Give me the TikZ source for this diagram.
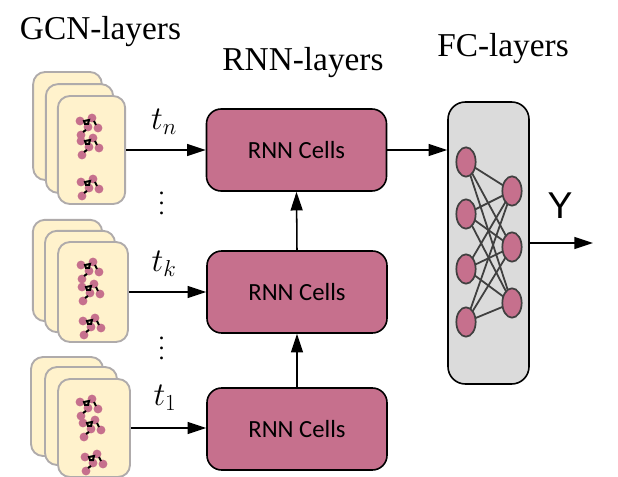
\documentclass[tikz,border=0pt]{standalone}
\usepackage{fontspec}
\setmainfont{Liberation Serif}
\newfontfamily\cellfont{Carlito}
\newfontfamily\yfont{Liberation Sans}
\definecolor{cardfill}{HTML}{FFF2CC}
\definecolor{carddraw}{HTML}{AFABAB}
\definecolor{pinkfill}{HTML}{C6708D}
\definecolor{fcfill}{HTML}{DBDBDB}
\definecolor{netline}{HTML}{404040}
\usetikzlibrary{arrows.meta,shapes.geometric}
\tikzset{
  x=0.75pt,y=-0.75pt,
  cardbox/.style={draw=carddraw,fill=cardfill,line width=1.4pt,rounded corners=9pt,inner sep=0pt},
  rnnbox/.style={draw=black,fill=pinkfill,line width=1.2pt,rounded corners=11pt,inner sep=0pt,minimum width=135pt,minimum height=61.5pt,font=\cellfont\fontsize{18.5}{20}\selectfont},
  fcbox/.style={draw=black,fill=fcfill,line width=1.2pt,rounded corners=13pt,inner sep=0pt,minimum width=60.75pt,minimum height=211.5pt},
  neuron/.style={ellipse,draw=netline,fill=pinkfill,line width=1.3pt,minimum width=14.5pt,minimum height=22pt,inner sep=0pt},
  link/.style={draw=netline,line width=1.35pt},
  flow/.style={draw=black,line width=1.15pt,-{Triangle[length=14pt,width=9pt]}},
  title/.style={font=\fontsize{25}{29}\selectfont,inner sep=0pt},
  timelabel/.style={font=\fontsize{23}{26}\selectfont,inner sep=0pt},
  dotslabel/.style={font=\fontsize{18}{7.5}\selectfont,align=center,inner sep=0pt,anchor=base},
  mol/.style={circle,fill=pinkfill,minimum size=6.6pt,inner sep=0pt},
  bond/.style={draw=black,line width=1.5pt},
}
\newcommand{\molecule}[2]{%
  \begin{scope}[shift={(#1,#2)}]
    \node[mol] at (-8,-6) {};
    \node[mol] at (4,-9) {};
    \node[mol] at (0,0) {};
    \node[mol] at (10,1) {};
    \node[mol] at (-7,8) {};
    \draw[bond] (-4,-6) -- (1,-7) -- (0,-3) -- (-3,-3) -- cycle;
    \draw[bond] (6,-6) -- (8,-2);
    \draw[bond] (-2,3) -- (-5,5);
  \end{scope}}
\begin{document}
\begin{tikzpicture}
\useasboundingbox (0,0) rectangle (618,477);
\begin{scope}
\clip (0,0) rectangle (618,477);
% stack n
\node[cardbox,minimum width=51.5pt,minimum height=81pt] (na) at (67.5,126) {};
\node[cardbox,minimum width=50.5pt,minimum height=81.5pt] (nb) at (79.5,138.5) {};
\node[cardbox,minimum width=50.5pt,minimum height=81pt] (nc) at (91.5,150) {};
\molecule{88}{127}\molecule{89}{147}\molecule{89}{188}
% stack k
\node[cardbox,minimum width=52pt,minimum height=76pt] (ka) at (67.5,270.5) {};
\node[cardbox,minimum width=52.5pt,minimum height=76pt] (kb) at (80,281.5) {};
\node[cardbox,minimum width=52.5pt,minimum height=75pt] (kc) at (93,292) {};
\molecule{89}{271}\molecule{90}{293}\molecule{91}{327}
% stack 1
\node[cardbox,minimum width=54pt,minimum height=74.25pt] (oa) at (67,406.5) {};
\node[cardbox,minimum width=54pt,minimum height=73.5pt] (ob) at (81,416) {};
\node[cardbox,minimum width=54pt,minimum height=73.5pt] (oc) at (94,428) {};
\molecule{88}{408}\molecule{91}{429}\molecule{93}{463}
\end{scope}
% RNN
\node[rnnbox] (r3) at (296.5,150) {RNN Cells};
\node[rnnbox] (r2) at (297,292) {RNN Cells};
\node[rnnbox] (r1) at (297,429) {RNN Cells};
% FC
\node[fcbox] (fc) at (488.5,243) {};
\foreach \a/\ya in {l1/162,l2/214,l3/269,l4/322}\coordinate (\a c) at (466,\ya);
\foreach \b/\yb in {o1/191,o2/247,o3/303}\coordinate (\b c) at (512,\yb);
\foreach \a in {l1,l2,l3,l4}\foreach \b in {o1,o2,o3}\draw[link] (\a c) -- (\b c);
\node[neuron] (l1) at (l1c) {};
\node[neuron] (l2) at (l2c) {};
\node[neuron] (l3) at (l3c) {};
\node[neuron] (l4) at (l4c) {};
\node[neuron] (o1) at (o1c) {};
\node[neuron] (o2) at (o2c) {};
\node[neuron] (o3) at (o3c) {};
% connectors
\coordinate (yend) at (593,243);
\draw[flow] (nc.east) -- (r3.west);
\draw[flow] (kc.east) -- (r2.west);
\draw[flow] (oc.east) -- (r1.west |- oc.east);
\draw[flow] (r3.east) -- (fc.west |- r3.east);
\draw[flow] (r2.north) -- (r3.south);
\draw[flow] (r1.north) -- (r2.south);
\draw[flow] (fc.east) -- (yend);
% labels
\node[title] (tg) at (100.5,32) {GCN-layers};
\node[title] (tr) at (303,63) {RNN-layers};
\node[title] (tf) at (503,49) {FC-layers};
\node[timelabel] (tn) at (164,122) {$t_n$};
\node[timelabel] (tk) at (164,264) {$t_k$};
\node[timelabel] (t1) at (165,398) {$t_1$};
\node[dotslabel] (d1) at (161.5,215) {.\\.\\.};
\node[dotslabel] (d2) at (161.5,360) {.\\.\\.};
\node[font=\yfont\fontsize{28}{32}\selectfont,inner sep=0pt] (yl) at (560,206) {Y};
\end{tikzpicture}
\end{document}
